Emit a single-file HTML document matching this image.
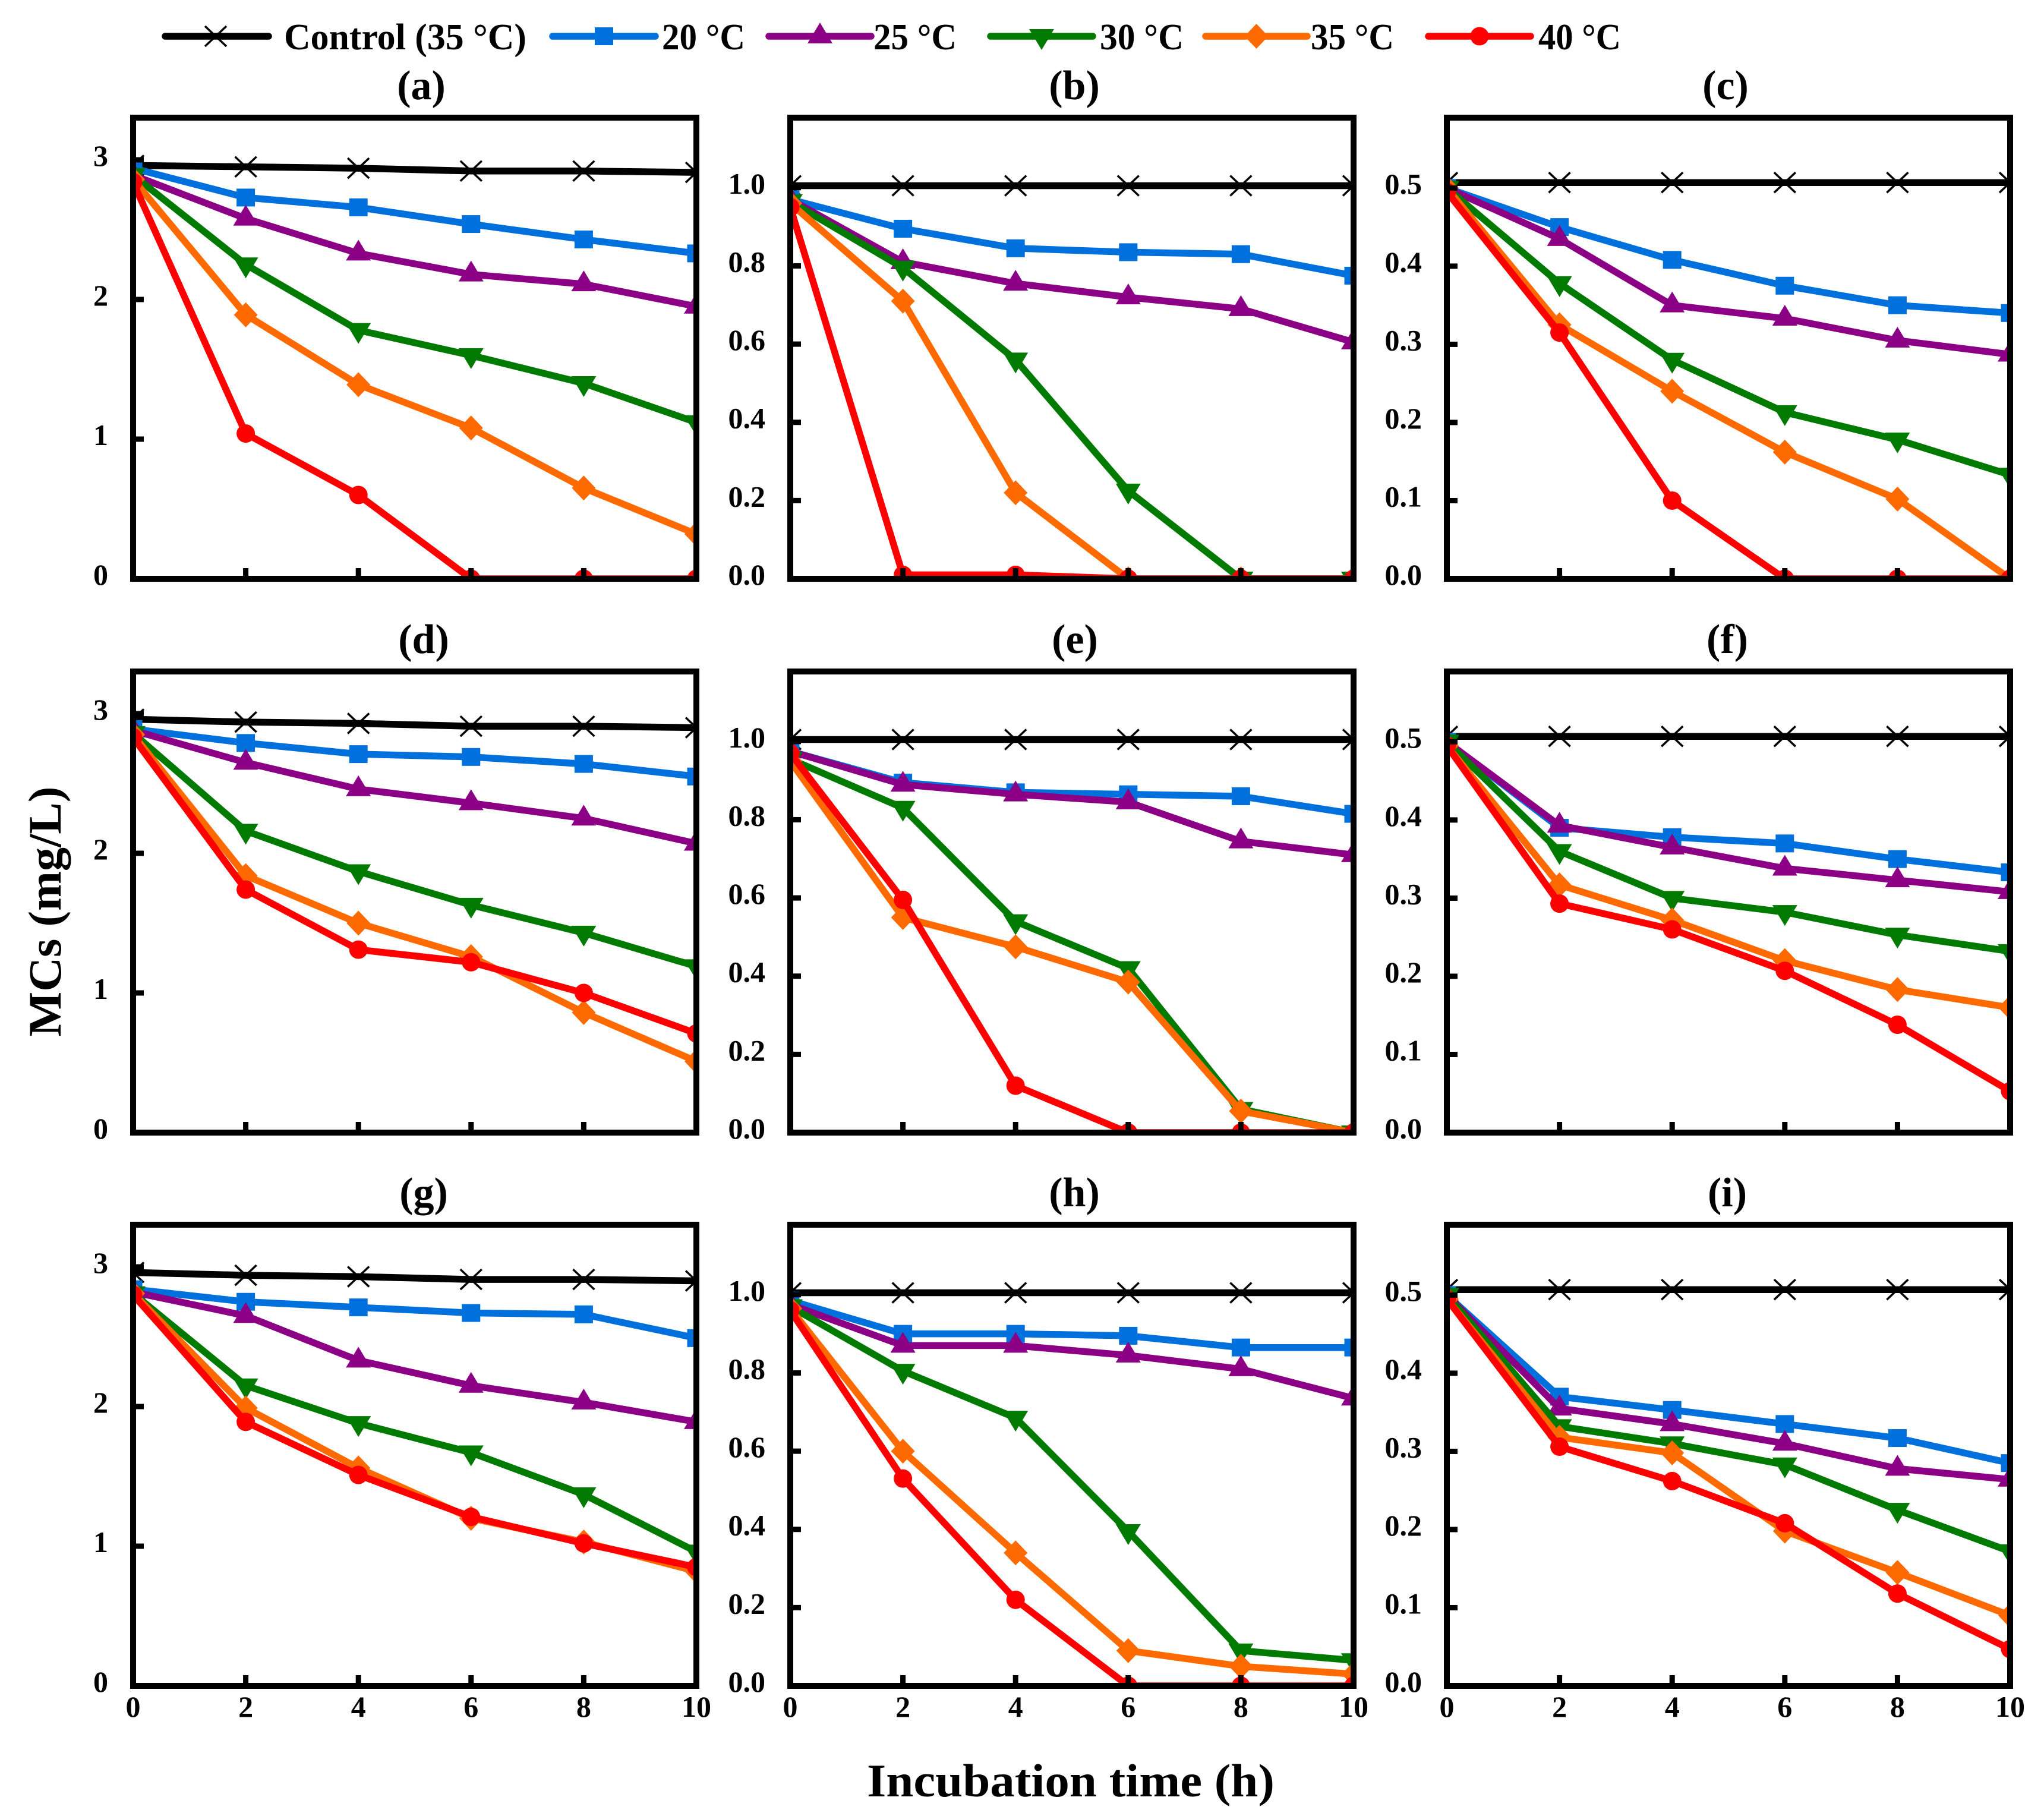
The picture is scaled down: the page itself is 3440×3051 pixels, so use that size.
<!DOCTYPE html>
<html lang="en">
<head>
<meta charset="utf-8">
<title>MCs degradation over incubation time</title>
<style>
html,body{margin:0;padding:0;background:#fff;}
svg{display:block;}
text{font-family:"Liberation Serif",serif;font-weight:bold;fill:#000;}
</style>
</head>
<body>
<svg id="chart" xmlns="http://www.w3.org/2000/svg" width="3440" height="3051" viewBox="0 0 3440 3051"></svg>
<script>
// ---------- data ----------
const hours = [0, 2, 4, 6, 8, 10];
const xTickLabels = ['0', '2', '4', '6', '8', '10'];
const panelLabels = ['a', 'b', 'c', 'd', 'e', 'f', 'g', 'h', 'i'];
const seriesNames = ['Control (35 °C)', '20 °C', '25 °C', '30 °C', '35 °C', '40 °C'];
const yMaxByColumn = [3.302, 1.179, 0.59];
const yTicksCol0 = [0, 1, 2, 3];
const yTicksCol1 = [0, 0.2, 0.4, 0.6, 0.8, 1.0];
const yTicksCol2 = [0, 0.1, 0.2, 0.3, 0.4, 0.5];
const yTickLabelsCol0 = ['0', '1', '2', '3'];
const yTickLabelsCol1 = ['0.0', '0.2', '0.4', '0.6', '0.8', '1.0'];
const yTickLabelsCol2 = ['0.0', '0.1', '0.2', '0.3', '0.4', '0.5'];

const panelA = [
  [2.96, 2.95, 2.94, 2.92, 2.92, 2.91],
  [2.94, 2.73, 2.66, 2.54, 2.43, 2.33],
  [2.89, 2.58, 2.33, 2.18, 2.11, 1.95],
  [2.89, 2.25, 1.78, 1.60, 1.40, 1.12],
  [2.86, 1.89, 1.39, 1.08, 0.65, 0.32],
  [2.84, 1.04, 0.60, 0, 0, 0]
];
const panelB = [
  [1.005, 1.005, 1.005, 1.005, 1.005, 1.005],
  [0.97, 0.895, 0.845, 0.835, 0.83, 0.775],
  [0.97, 0.81, 0.755, 0.72, 0.69, 0.605],
  [0.965, 0.795, 0.56, 0.225, 0, 0],
  [0.96, 0.71, 0.22, 0, 0, 0],
  [0.95, 0.01, 0.01, 0, 0, 0]
];
const panelC = [
  [0.507, 0.507, 0.507, 0.507, 0.507, 0.507],
  [0.5, 0.45, 0.408, 0.375, 0.35, 0.34],
  [0.5, 0.435, 0.35, 0.333, 0.305, 0.287],
  [0.5, 0.378, 0.28, 0.213, 0.178, 0.133],
  [0.5, 0.325, 0.24, 0.162, 0.102, 0],
  [0.495, 0.315, 0.10, 0, 0, 0]
];
const panelD = [
  [2.96, 2.94, 2.93, 2.91, 2.91, 2.90],
  [2.89, 2.79, 2.71, 2.69, 2.64, 2.55],
  [2.88, 2.65, 2.46, 2.36, 2.25, 2.07],
  [2.86, 2.16, 1.87, 1.63, 1.43, 1.19],
  [2.85, 1.84, 1.50, 1.26, 0.86, 0.51],
  [2.83, 1.74, 1.31, 1.22, 1.0, 0.71]
];
const panelE = [
  [1.005, 1.005, 1.005, 1.005, 1.005, 1.005],
  [0.975, 0.895, 0.87, 0.865, 0.86, 0.815],
  [0.975, 0.89, 0.865, 0.845, 0.745, 0.71],
  [0.955, 0.83, 0.54, 0.42, 0.06, 0],
  [0.95, 0.55, 0.475, 0.385, 0.055, 0],
  [0.97, 0.595, 0.12, 0, 0, 0]
];
const panelF = [
  [0.507, 0.507, 0.507, 0.507, 0.507, 0.507],
  [0.5, 0.39, 0.378, 0.37, 0.35, 0.333],
  [0.5, 0.393, 0.365, 0.338, 0.323, 0.308],
  [0.5, 0.36, 0.30, 0.282, 0.253, 0.232],
  [0.495, 0.317, 0.272, 0.22, 0.183, 0.16],
  [0.495, 0.293, 0.26, 0.207, 0.138, 0.053]
];
const panelG = [
  [2.96, 2.94, 2.93, 2.91, 2.91, 2.90],
  [2.84, 2.75, 2.71, 2.67, 2.66, 2.49],
  [2.82, 2.65, 2.33, 2.15, 2.03, 1.89],
  [2.81, 2.15, 1.88, 1.67, 1.37, 0.96],
  [2.81, 1.99, 1.56, 1.20, 1.03, 0.82],
  [2.80, 1.89, 1.51, 1.21, 1.02, 0.85]
];
const panelH = [
  [1.005, 1.005, 1.005, 1.005, 1.005, 1.005],
  [0.985, 0.9, 0.9, 0.895, 0.865, 0.865],
  [0.975, 0.87, 0.87, 0.845, 0.81, 0.735],
  [0.97, 0.805, 0.685, 0.395, 0.09, 0.065],
  [0.965, 0.6, 0.34, 0.09, 0.05, 0.03],
  [0.96, 0.53, 0.22, 0, 0, 0]
];
const panelI = [
  [0.507, 0.507, 0.507, 0.507, 0.507, 0.507],
  [0.5, 0.37, 0.353, 0.335, 0.317, 0.285],
  [0.5, 0.355, 0.335, 0.31, 0.278, 0.264],
  [0.5, 0.332, 0.31, 0.283, 0.225, 0.172],
  [0.495, 0.318, 0.298, 0.198, 0.145, 0.09],
  [0.495, 0.306, 0.262, 0.208, 0.118, 0.047]
];
const panelValues = [panelA, panelB, panelC, panelD, panelE, panelF, panelG, panelH, panelI];

// ---------- layout and style ----------
const NS = 'http://www.w3.org/2000/svg';
const svg = document.getElementById('chart');
const seriesColors = ['#000000', '#0070dc', '#8b0085', '#007a00', '#ff6a00', '#ff0000'];
const seriesKeys = ['control', '20c', '25c', '30c', '35c', '40c'];
const plotW = 948, plotH = 776;
const colLeft = [224, 1330, 2435];
const rowTop = [198, 1130, 2061];
const titleCenter = [709, 713, 713, 1808, 1809, 1808, 2904, 2907, 2907];
const yTicksByColumn = [yTicksCol0, yTicksCol1, yTicksCol2];
const yLabelsByColumn = [yTickLabelsCol0, yTickLabelsCol1, yTickLabelsCol2];

function mk(tag, attrs, parent) {
  const el = document.createElementNS(NS, tag);
  for (const k in attrs) el.setAttribute(k, attrs[k]);
  (parent || svg).appendChild(el);
  return el;
}

function drawMarker(seriesIndex, cx, cy, parent) {
  const c = seriesColors[seriesIndex];
  let m;
  if (seriesIndex === 0) {
    const d = 'M' + (cx - 18) + ' ' + (cy - 17) + 'L' + (cx + 18) + ' ' + (cy + 17) + 'M' + (cx - 18) + ' ' + (cy + 17) + 'L' + (cx + 18) + ' ' + (cy - 17);
    m = mk('path', { d: d, stroke: c, 'stroke-width': 3.5, fill: 'none' }, parent);
  } else if (seriesIndex === 1) {
    m = mk('rect', { x: cx - 15.5, y: cy - 15, width: 31, height: 30, fill: c }, parent);
  } else if (seriesIndex === 2) {
    m = mk('polygon', { points: (cx) + ',' + (cy - 23) + ' ' + (cx + 21) + ',' + (cy + 12) + ' ' + (cx - 21) + ',' + (cy + 12), fill: c }, parent);
  } else if (seriesIndex === 3) {
    m = mk('polygon', { points: (cx) + ',' + (cy + 23) + ' ' + (cx + 21) + ',' + (cy - 12) + ' ' + (cx - 21) + ',' + (cy - 12), fill: c }, parent);
  } else if (seriesIndex === 4) {
    m = mk('polygon', { points: (cx) + ',' + (cy - 21) + ' ' + (cx + 20) + ',' + (cy) + ' ' + (cx) + ',' + (cy + 21) + ' ' + (cx - 20) + ',' + (cy), fill: c }, parent);
  } else {
    m = mk('circle', { cx: cx, cy: cy, r: 15.5, fill: c }, parent);
  }
  return m;
}

// ---------- legend ----------
const legendLine = [[278, 452], [930, 1103], [1294, 1466], [1667, 1839], [2029, 2200], [2404, 2576]];
const legendText = [[478, 408], [1114, 140], [1470, 140], [1851, 141], [2206, 140], [2589, 139]];
const legendGroup = mk('g', {});


seriesNames.forEach(function (name, i) {
  const entry = mk('g', {}, legendGroup);
  
  
  const line = mk('line', { x1: legendLine[i][0], x2: legendLine[i][1], y1: 61, y2: 61, stroke: seriesColors[i], 'stroke-width': 11.5, 'stroke-linecap': 'round' }, entry);
  
  
  const marker = drawMarker(i, (legendLine[i][0] + legendLine[i][1]) / 2 - (i === 0 ? 2 : 0), 61, entry);
  
  
  const label = mk('text', { x: legendText[i][0], y: 83, 'font-size': 62, textLength: legendText[i][1], lengthAdjust: 'spacingAndGlyphs' }, entry);
  label.textContent = name;
  
  
});

// ---------- panels ----------
const defs = mk('defs', {});
panelLabels.forEach(function (letter, p) {
  const col = p % 3;
  const row = Math.floor(p / 3);
  const left = colLeft[col];
  const top = rowTop[row];
  const bottom = top + plotH;
  const xScale = function (t) { return left + (t / hours[hours.length - 1]) * plotW; };
  const yScale = function (v) { return bottom - (v / yMaxByColumn[col]) * plotH; };

  const panel = mk('g', {});
  
  

  const title = mk('text', { x: titleCenter[col * 3 + row], y: top - 31, 'font-size': 70, 'text-anchor': 'middle' }, panel);
  title.textContent = '(' + letter + ')';
  
  

  const clip = mk('clipPath', { id: 'clip-' + letter }, defs);
  mk('rect', { x: left, y: top, width: plotW, height: plotH }, clip);

  const plot = mk('g', { 'clip-path': 'url(#clip-' + letter + ')' }, panel);
  
  

  panelValues[p].forEach(function (values, s) {
    const group = mk('g', {}, plot);
    
    
    const pts = values.map(function (v, k) { return xScale(hours[k]).toFixed(1) + ',' + yScale(v).toFixed(1); }).join(' ');
    const line = mk('polyline', { points: pts, fill: 'none', stroke: seriesColors[s], 'stroke-width': 11.5, 'stroke-linejoin': 'round' }, group);
    
    
    values.forEach(function (v, k) {
      const marker = drawMarker(s, xScale(hours[k]), yScale(v), group);
      
      
    });
  });

  // y axis ticks and labels
  yTicksByColumn[col].forEach(function (v, k) {
    const y = yScale(v);
    if (v !== 0) {
      const tick = mk('rect', { x: left, y: y - 4.5, width: 18, height: 9, fill: '#000' }, panel);
      
      
    }
    const lab = mk('text', { x: left - 42, y: y + 10, 'font-size': 50, 'text-anchor': 'end' }, panel);
    lab.textContent = yLabelsByColumn[col][k];
    
    
  });

  // x axis ticks and labels
  hours.forEach(function (t, k) {
    const x = xScale(t);
    if (t !== 0 && t !== hours[hours.length - 1]) {
      const tick = mk('rect', { x: x - 4.5, y: bottom - 18, width: 9, height: 18, fill: '#000' }, panel);
      
      
    }
    if (row === 2) {
      const lab = mk('text', { x: x, y: bottom + 52, 'font-size': 50, 'text-anchor': 'middle' }, panel);
      lab.textContent = xTickLabels[k];
      
      
    }
  });

  const frame = mk('rect', { x: left, y: top, width: plotW, height: plotH, fill: 'none', stroke: '#000', 'stroke-width': 10 }, panel);
  
  
});

// ---------- axis titles ----------
const yTitle = mk('text', { x: 0, y: 0, 'font-size': 78, 'text-anchor': 'middle', textLength: 421, lengthAdjust: 'spacingAndGlyphs', transform: 'translate(102 1534) rotate(-90)' });
yTitle.textContent = 'MCs (mg/L)';



const xTitle = mk('text', { x: 1459, y: 3023, 'font-size': 78, textLength: 686, lengthAdjust: 'spacingAndGlyphs' });
xTitle.textContent = 'Incubation time (h)';


</script>
</body>
</html>
